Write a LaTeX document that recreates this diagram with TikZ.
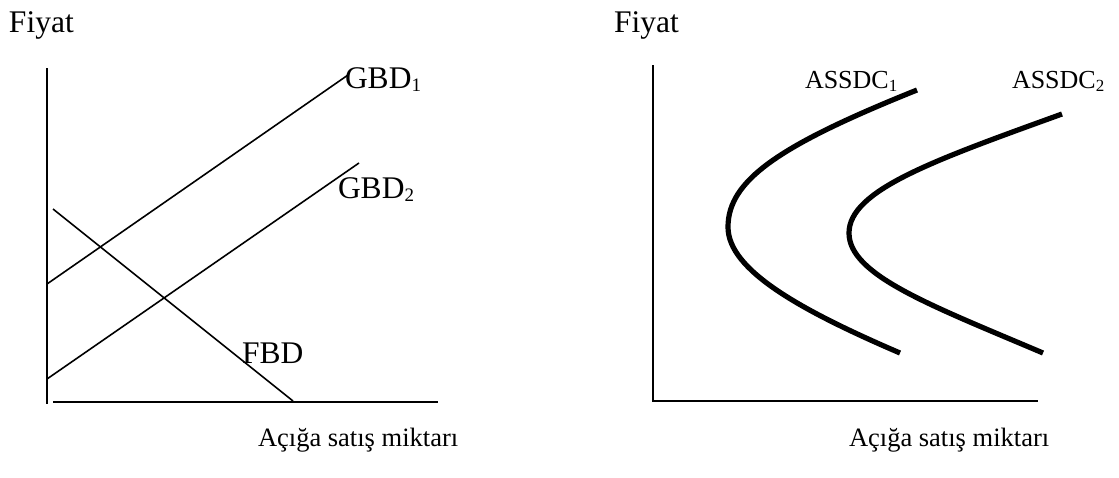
\documentclass[tikz,border=0pt]{standalone}
\usepackage{fontspec}
\setmainfont{Liberation Serif}
\newcommand{\bigtxt}{\fontsize{31.5}{36}\selectfont}
\newcommand{\midtxt}{\fontsize{26}{31}\selectfont}
\newcommand{\smalltxt}{\fontsize{26.5}{30}\selectfont}
\newcommand{\subtxt}[2]{\raisebox{#1}{\fontsize{19}{20}\selectfont #2}}
\begin{document}
\begin{tikzpicture}[x=1pt,y=-1pt,
  axis/.style={line width=2pt},
  thinline/.style={line width=1.6pt},
  thickcurve/.style={line width=5.2pt},
  lbl/.style={inner sep=0pt,outer sep=0pt,anchor=base west}]
\useasboundingbox (0,0) rectangle (1119,477);
% ---------- left chart ----------
\node[lbl] (fiyatL) at (9,32) {\bigtxt Fiyat};
\coordinate (yTopL) at (47,68);
\coordinate (yBotL) at (47,404);
\coordinate (xLeftL) at (53,402);
\coordinate (xRightL) at (438,402);
\draw[axis] (yTopL) -- (yBotL);
\draw[axis] (xLeftL) -- (xRightL);
\coordinate (g1a) at (47,284);
\coordinate (g1b) at (348,75);
\coordinate (g2a) at (47,379);
\coordinate (g2b) at (359,163);
\coordinate (fa) at (53,209);
\coordinate (fb) at (293,401);
\draw[thinline] (g1a) -- (g1b);
\draw[thinline] (g2a) -- (g2b);
\draw[thinline] (fa) -- (fb);
\node[lbl] (gbd1) at (345,88) {\bigtxt GBD\subtxt{-3pt}{1}};
\node[lbl] (gbd2) at (338,198) {\bigtxt GBD\subtxt{-3pt}{2}};
\node[lbl] (fbd) at (242,363) {\bigtxt FBD};
\node[lbl] (xlabL) at (258,446) {\smalltxt Açığa satış miktarı};
% ---------- right chart ----------
\node[lbl] (fiyatR) at (614,32) {\bigtxt Fiyat};
\coordinate (yTopR) at (653,65);
\coordinate (yBotR) at (653,402);
\coordinate (xLeftR) at (652,401);
\coordinate (xRightR) at (1038,401);
\draw[axis] (yTopR) -- (yBotR);
\draw[axis] (xLeftR) -- (xRightR);
\coordinate (c1a) at (917,90);
\coordinate (c1v) at (728,227);
\coordinate (c1b) at (900,353);
\coordinate (c2a) at (1062,114);
\coordinate (c2v) at (849,233);
\coordinate (c2b) at (1043,353);
\draw[thickcurve] (c1a) .. controls (780,145) and (728,180) .. (c1v)
  .. controls (728,270) and (800,310) .. (c1b);
\draw[thickcurve] (c2a) .. controls (935,160) and (849,190) .. (c2v)
  .. controls (849,275) and (930,305) .. (c2b);
\node[lbl] (assdc1) at (805,88) {\midtxt ASSDC\subtxt{-3pt}{\fontsize{17}{20}\selectfont 1}};
\node[lbl] (assdc2) at (1012,88) {\midtxt ASSDC\subtxt{-3pt}{\fontsize{17}{20}\selectfont 2}};
\node[lbl] (xlabR) at (849,446) {\smalltxt Açığa satış miktarı};
\end{tikzpicture}
\end{document}
